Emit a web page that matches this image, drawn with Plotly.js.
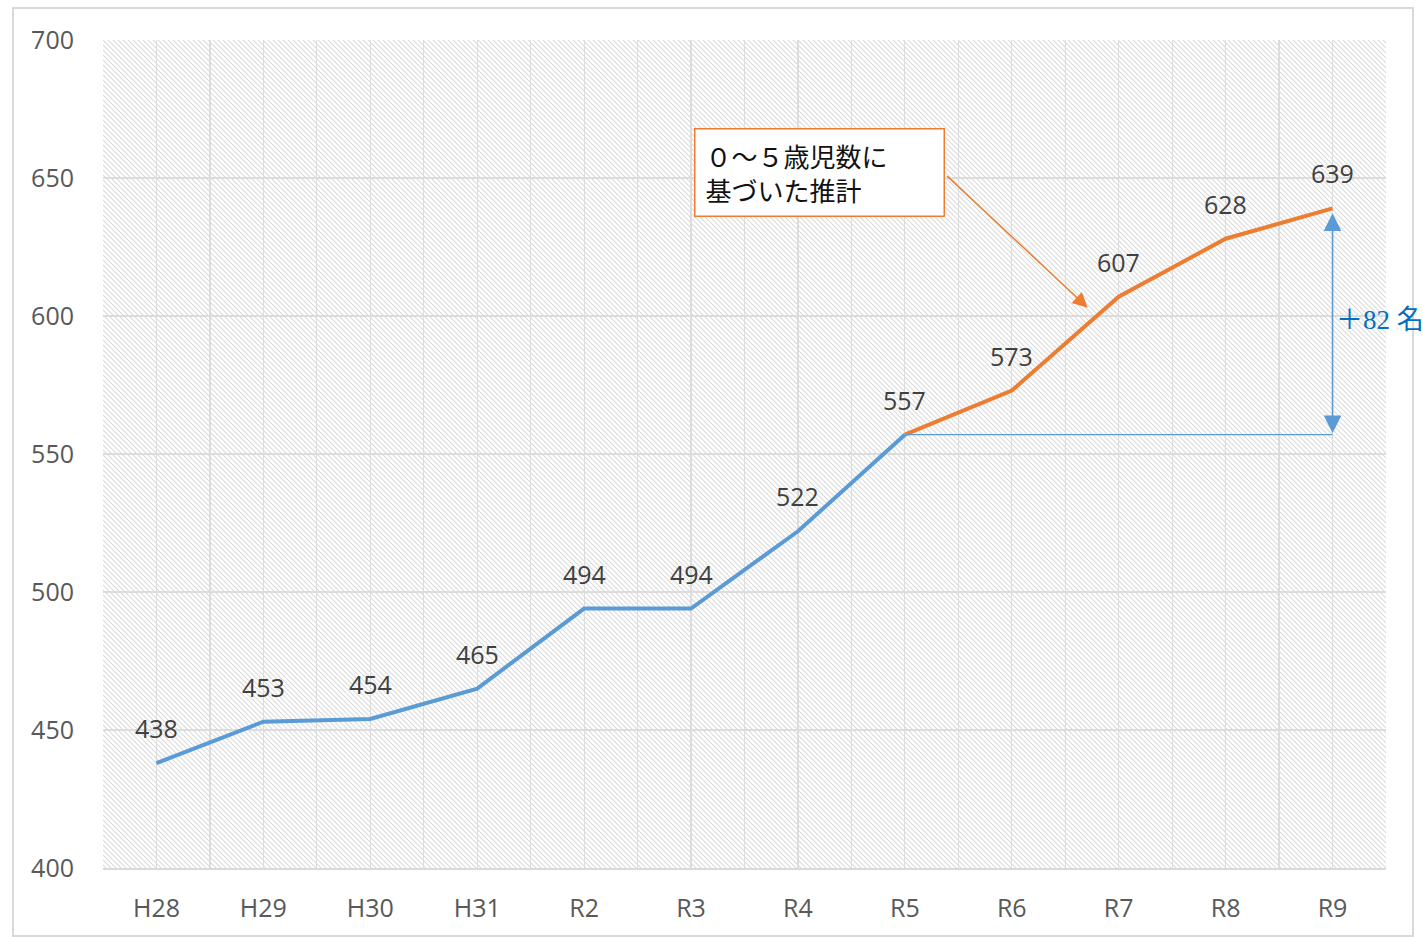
<!DOCTYPE html>
<html><head><meta charset="utf-8">
<script src="https://cdn.plot.ly/plotly-3.0.1.min.js"></script>
<style>html,body{margin:0;padding:0;background:#fff;}#chart{width:1423px;height:937px;}</style>
</head><body><div id="chart"></div>
<script>
const categories = ['H28','H29','H30','H31','R2','R3','R4','R5','R6','R7','R8','R9'];
const actualCats = ['H28','H29','H30','H31','R2','R3','R4','R5'];
const actualValues = [438,453,454,465,494,494,522,557];
const projCats = ['R5','R6','R7','R8','R9'];
const projValues = [557,573,607,628,639];
const yTicks = [400,450,500,550,600,650,700];
const boxText = '０～５歳児数に<br>基づいた推計';
const diffText = '＋82 名';

const idx = c => categories.indexOf(c);
const PW = 1283, PH = 828;
const svg = `<svg xmlns="http://www.w3.org/2000/svg" width="${PW}" height="${PH}" viewBox="0 0 ${PW} ${PH}"><defs><pattern id="h" patternUnits="userSpaceOnUse" width="5" height="5"><path d="M-1,-1 L6,6 M-1,4 L1,6 M4,-1 L6,1" stroke="#dadada" stroke-width="1.1"/></pattern></defs><rect width="${PW}" height="${PH}" fill="url(#h)"/></svg>`;

const labelFont = {family:'Open Sans, sans-serif', size:25, color:'#404040'};
const annotations = [];
const seen = {};
function addLabels(cats, vals){
  cats.forEach((c,i)=>{ if(seen[c]) return; seen[c]=1;
    annotations.push({x:idx(c), y:vals[i], text:String(vals[i]), showarrow:false, yshift:35, font:labelFont, xanchor:'center', yanchor:'middle'});
  });
}
addLabels(actualCats, actualValues);
addLabels(projCats, projValues);

const startV = projValues[0], endV = projValues[projValues.length-1];
const endX = idx(projCats[projCats.length-1]);
// double arrow
annotations.push({x:endX, y:endV, ax:endX, ay:startV, xref:'x', yref:'y', axref:'x', ayref:'y', showarrow:true, arrowside:'end+start', arrowhead:2, startarrowhead:2, arrowsize:2.2, startarrowsize:2.2, arrowwidth:1.6, arrowcolor:'#5B9BD5', standoff:5, startstandoff:0, text:''});
annotations.push({x:endX, y:(startV+endV)/2, xref:'x', yref:'y', text:diffText, showarrow:false, xanchor:'left', xshift:1, yshift:2, font:{family:'Liberation Serif, Noto Sans CJK JP, serif', size:27, color:'#0070C0'}});
// callout arrow
annotations.push({x:8.71, y:603, xref:'x', yref:'y', ax:-142, ay:-133, showarrow:true, arrowhead:2, arrowsize:2, arrowwidth:1.5, arrowcolor:'#ED7D31', text:''});
// text box
annotations.push({xref:'paper', yref:'paper', x:(694-103)/PW, y:(868-128)/PH, xanchor:'left', yanchor:'top', text:boxText, showarrow:false, align:'left', width:228, height:66, borderpad:10, bordercolor:'#ED7D31', borderwidth:1.5, bgcolor:'#ffffff', font:{family:'Noto Sans CJK JP, sans-serif', size:26, color:'#111'}});

const shapes = [
  {type:'line', xref:'x', yref:'y', x0:idx(projCats[0]), x1:endX, y0:startV, y1:startV, line:{color:'#5B9BD5', width:1.3}},
  {type:'rect', xref:'paper', yref:'paper', x0:(13-103)/PW, x1:(1413-103)/PW, y0:(868-936)/PH, y1:(868-8)/PH, line:{color:'#d9d9d9', width:2}, fillcolor:'rgba(0,0,0,0)', layer:'below'}
];

const traces = [
  {x:actualCats.map(idx), y:actualValues, type:'scatter', mode:'lines', line:{color:'#5B9BD5', width:4}, hoverinfo:'skip'},
  {x:projCats.map(idx), y:projValues, type:'scatter', mode:'lines', line:{color:'#ED7D31', width:4}, hoverinfo:'skip'}
];

const layout = {
  width:1423, height:937,
  margin:{l:103, r:37, t:40, b:69},
  paper_bgcolor:'#ffffff', plot_bgcolor:'#ffffff',
  showlegend:false,
  xaxis:{range:[-0.5, categories.length-0.5], tickvals:categories.map((c,i)=>i), ticktext:categories,
    showgrid:true, gridcolor:'#dcdcdc', gridwidth:1.2,
    minor:{tick0:-0.5, dtick:1, showgrid:true, gridcolor:'#dcdcdc', gridwidth:1.2},
    showline:true, linecolor:'#d9d9d9', linewidth:1.5, zeroline:false, ticks:'', ticklabelstandoff:17,
    tickfont:{family:'Open Sans, sans-serif', size:25, color:'#595959'}, fixedrange:true},
  yaxis:{range:[400,700], tickvals:yTicks, showgrid:true, gridcolor:'#dcdcdc', gridwidth:1.2, zeroline:false, showline:false,
    ticks:'', ticklabelstandoff:28, tickfont:{family:'Open Sans, sans-serif', size:25, color:'#595959'}, fixedrange:true},
  images:[{source:'data:image/svg+xml;charset=utf-8,'+encodeURIComponent(svg), xref:'paper', yref:'paper', x:0, y:1, sizex:1, sizey:1, sizing:'stretch', xanchor:'left', yanchor:'top', layer:'below'}],
  annotations, shapes
};
Plotly.newPlot('chart', traces, layout, {displayModeBar:false, staticPlot:true});
</script></body></html>
